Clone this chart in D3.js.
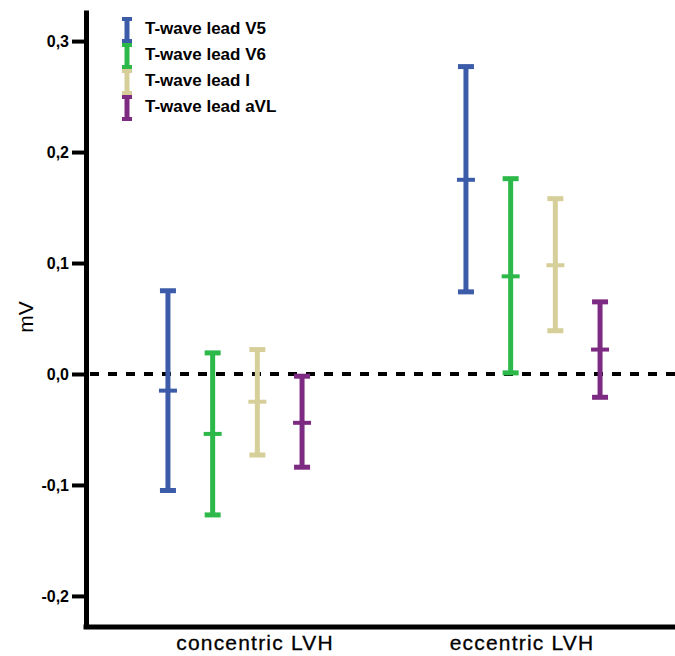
<!DOCTYPE html>
<html>
<head>
<meta charset="utf-8">
<script src="https://cdn.jsdelivr.net/npm/d3@7"></script>
<style>
  body { margin: 0; background: #fff; }
  text { font-family: "Liberation Sans", Arial, sans-serif; }
</style>
</head>
<body>
<div id="chart"></div>
<script>
// Data (mV)
const groups = ["concentric LVH", "eccentric LVH"];
const leads = ["T-wave lead V5", "T-wave lead V6", "T-wave lead I", "T-wave lead aVL"];
const means = [
  [-0.015, -0.054, -0.025, -0.044],
  [0.175, 0.088, 0.098, 0.022]
];
const lower = [
  [-0.105, -0.127, -0.073, -0.084],
  [0.074, 0.001, 0.039, -0.021]
];
const upper = [
  [0.075, 0.019, 0.022, -0.002],
  [0.277, 0.176, 0.158, 0.065]
];
const yTicks = [-0.2, -0.1, 0.0, 0.1, 0.2, 0.3];

const colors = ["#3c5ba9", "#2db84a", "#d6cf9a", "#7d2a82"];

const W = 675, H = 656;
const svg = d3.select("#chart").append("svg")
    .attr("width", W)
    .attr("height", H);

const axisX = 86, axisBottom = 627, axisTop = 10;

// Scales
const y = d3.scaleLinear()
    .domain([-0.228, 0.328])
    .range([axisBottom, axisTop]);

const x = d3.scaleBand()
    .domain(groups)
    .range([axisX, 682]);

const xLead = d3.scaleBand()
    .domain(leads)
    .range([-89.4, 89.4]);

// Zero reference line
svg.append("line")
    .attr("x1", axisX)
    .attr("x2", W)
    .attr("y1", y(0))
    .attr("y2", y(0))
    .attr("stroke", "#000")
    .attr("stroke-width", 4)
    .attr("stroke-dasharray", "9,9")
    .attr("stroke-dashoffset", -4);

// Y axis
const fmt = v => d3.format(".1f")(v).replace(".", ",").replace("\u2212", "-");
const yAxis = svg.append("g")
    .attr("transform", `translate(${axisX},0)`)
    .call(d3.axisLeft(y).tickValues(yTicks).tickFormat(fmt).tickSize(14).tickSizeOuter(0).tickPadding(3));
yAxis.select(".domain").attr("stroke-width", 5);
yAxis.selectAll(".tick line").attr("stroke-width", 4);
yAxis.selectAll(".tick text")
    .style("font-size", "16px")
    .style("font-weight", "bold")
    .attr("fill", "#000");

// X axis
const labelShift = {"concentric LVH": 20, "eccentric LVH": -11};
const xAxis = svg.append("g")
    .attr("transform", `translate(0,${axisBottom})`)
    .call(d3.axisBottom(x).tickSize(0).tickSizeOuter(0).tickPadding(8));
xAxis.select(".domain").attr("stroke-width", 5)
    .attr("d", `M${axisX - 2.5},0H${W}`);
xAxis.selectAll(".tick text")
    .style("font-size", "21px")
    .style("letter-spacing", "1.2px")
    .attr("fill", "#000")
    .attr("stroke", "#000")
    .attr("stroke-width", 0.3)
    .attr("dx", d => labelShift[d]);

// Y axis title
svg.append("text")
    .attr("transform", `translate(33,${317}) rotate(-90)`)
    .attr("text-anchor", "middle")
    .style("font-size", "21px")
    .text("mV");

// Error bars
const rows = [];
groups.forEach((g, gi) => {
  leads.forEach((l, li) => {
    rows.push({group: g, lead: l, color: colors[li],
      mean: means[gi][li], lo: lower[gi][li], hi: upper[gi][li]});
  });
});

const bars = svg.selectAll("g.bar")
  .data(rows)
  .enter()
  .append("g")
    .attr("class", "bar")
    .attr("transform", d => `translate(${x(d.group) + x.bandwidth() / 2 + xLead(d.lead) + xLead.bandwidth() / 2},0)`)
    .attr("stroke", d => d.color);

bars.append("line")
    .attr("y1", d => y(d.hi))
    .attr("y2", d => y(d.lo))
    .attr("stroke-width", 5);
bars.append("line")
    .attr("x1", -8).attr("x2", 8)
    .attr("y1", d => y(d.hi)).attr("y2", d => y(d.hi))
    .attr("stroke-width", 5);
bars.append("line")
    .attr("x1", -8).attr("x2", 8)
    .attr("y1", d => y(d.lo)).attr("y2", d => y(d.lo))
    .attr("stroke-width", 5);
bars.append("line")
    .attr("x1", -9).attr("x2", 9)
    .attr("y1", d => y(d.mean)).attr("y2", d => y(d.mean))
    .attr("stroke-width", 4);

// Legend
const legend = svg.selectAll("g.legend")
  .data(leads)
  .enter()
  .append("g")
    .attr("class", "legend")
    .attr("transform", (d, i) => `translate(127,${30 + i * 26})`);

legend.append("line")
    .attr("y1", -11).attr("y2", 11)
    .attr("stroke", (d, i) => colors[i])
    .attr("stroke-width", 5);
legend.append("line")
    .attr("x1", -5).attr("x2", 5)
    .attr("y1", -11).attr("y2", -11)
    .attr("stroke", (d, i) => colors[i])
    .attr("stroke-width", 4);
legend.append("line")
    .attr("x1", -5).attr("x2", 5)
    .attr("y1", 11).attr("y2", 11)
    .attr("stroke", (d, i) => colors[i])
    .attr("stroke-width", 4);
legend.append("text")
    .attr("x", 18)
    .attr("y", 0)
    .attr("dominant-baseline", "middle")
    .style("font-size", "17px")
    .style("font-weight", "bold")
    .text(d => d);
</script>
</body>
</html>
